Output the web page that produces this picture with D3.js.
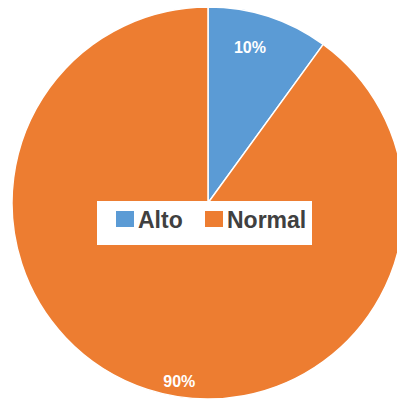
<!DOCTYPE html>
<html><head><meta charset="utf-8">
<script src="https://cdn.jsdelivr.net/npm/d3@7"></script>
<style>body{margin:0;background:#fff}svg{display:block}</style>
</head><body>
<svg id="c" width="397" height="404"></svg>
<script>
const categories = ["Alto", "Normal"];
const values = [10, 90];
const labels = ["10%", "90%"];
const colors = ["#5B9BD5", "#ED7D31"];

const svg = d3.select("#c");
const cx = 208, cy = 203, R = 196;
const g = svg.append("g").attr("transform", `translate(${cx},${cy})`);
const pie = d3.pie().sort(null).value(d => d)(values);
const arc = d3.arc().innerRadius(0).outerRadius(R);
g.selectAll("path").data(pie).enter().append("path")
  .attr("d", arc).attr("fill", (d,i) => colors[i])
  .attr("stroke", "#fff").attr("stroke-width", 1.5);

// labels: angle & radius tuned to mimic placement
const labelPos = (d, i) => {
  const a = i === 0 ? (d.startAngle + d.endAngle) / 2 - 0.05 : Math.PI + 0.16;
  const r = i === 0 ? R * 0.82 : R * 0.92;
  return [r * Math.sin(a), -r * Math.cos(a)];
};
g.selectAll("text.lbl").data(pie).enter().append("text")
  .attr("class", "lbl")
  .attr("x", (d,i) => labelPos(d,i)[0]).attr("y", (d,i) => labelPos(d,i)[1])
  .attr("text-anchor", "middle").attr("dominant-baseline", "central")
  .attr("fill", "#fff").attr("font-family", "Liberation Sans, Arial, sans-serif")
  .attr("font-weight", "bold").attr("font-size", 16)
  .text((d,i) => labels[i]);

// legend
const lg = svg.append("g");
lg.append("rect").attr("x", 97).attr("y", 201).attr("width", 215).attr("height", 44).attr("fill", "#fff");
const items = [{x: 116}, {x: 205}];
categories.forEach((c, i) => {
  const x = items[i].x;
  lg.append("rect").attr("x", x).attr("y", 211).attr("width", 18).attr("height", 16).attr("fill", colors[i]);
  lg.append("text").attr("x", x + 22).attr("y", 227.5)
    .attr("fill", "#404040").attr("font-family", "Liberation Sans, Arial, sans-serif")
    .attr("font-weight", "bold").attr("font-size", 23).text(c);
});
</script>
</body></html>
